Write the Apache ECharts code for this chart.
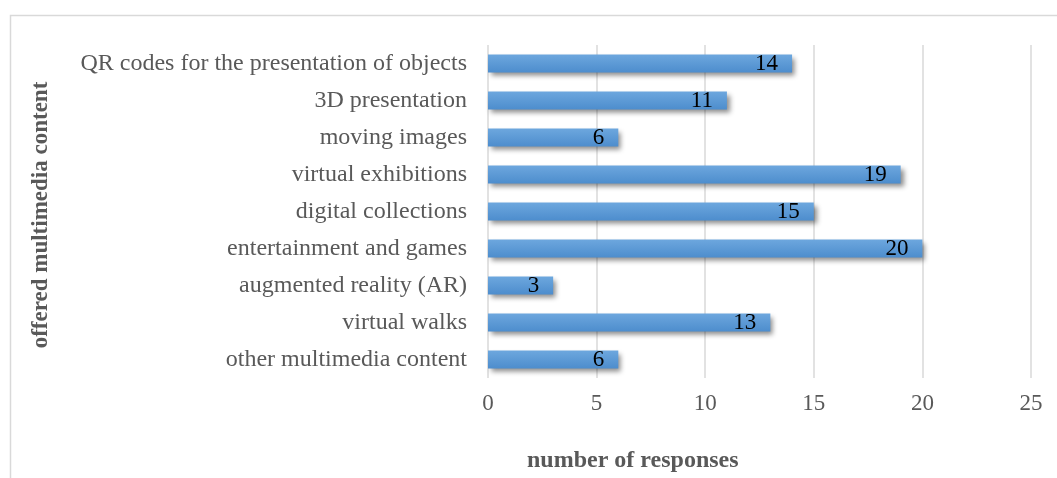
<!DOCTYPE html>
<html>
<head>
<meta charset="utf-8">
<script src="https://cdn.jsdelivr.net/npm/echarts@6/dist/echarts.min.js"></script>
<style>html,body{margin:0;padding:0;background:#fff}#c{width:1057px;height:478px}</style>
</head>
<body>
<div id="c"></div>
<script>
const categories = [
  'QR codes for the presentation of objects',
  '3D presentation',
  'moving images',
  'virtual exhibitions',
  'digital collections',
  'entertainment and games',
  'augmented reality (AR)',
  'virtual walks',
  'other multimedia content'
];
const values = [14, 11, 6, 19, 15, 20, 3, 13, 6];
const xTicks = { min: 0, max: 25, interval: 5 };
const yTitle = 'offered multimedia content';
const xTitle = 'number of responses';

const font = '"Liberation Serif", "Times New Roman", serif';
const chart = echarts.init(document.getElementById('c'), null, { renderer: 'canvas' });
chart.setOption({
  animation: false,
  backgroundColor: '#fff',
  grid: { left: 488, right: 26, top: 45, bottom: 100, containLabel: false },
  graphic: [
    { type: 'rect', shape: { x: 10.5, y: 15.5, width: 1200, height: 600 }, style: { fill: 'none', stroke: '#d9d9d9', lineWidth: 1.5 }, silent: true },
    { type: 'text', left: 527, top: 449, style: { text: xTitle, font: 'bold 24px ' + font, fill: '#595959' } },
    { type: 'text', x: 41, y: 215, rotation: Math.PI / 2,
      style: { text: yTitle, font: 'bold 23px ' + font, fill: '#595959', align: 'center', verticalAlign: 'middle' } }
  ],
  xAxis: {
    type: 'value', min: xTicks.min, max: xTicks.max, interval: xTicks.interval,
    axisLine: { show: false }, axisTick: { show: false },
    splitLine: { show: true, lineStyle: { color: '#d9d9d9', width: 1.5 } },
    axisLabel: { margin: 14, color: '#595959', fontFamily: font, fontSize: 23 }
  },
  yAxis: {
    type: 'category', data: categories, inverse: true,
    axisLine: { show: false }, axisTick: { show: false },
    axisLabel: { margin: 21, color: '#595959', fontFamily: font, fontSize: 24 }
  },
  series: [{
    type: 'bar', data: values, barWidth: 18,
    itemStyle: {
      color: new echarts.graphic.LinearGradient(0, 0, 0, 1, [
        { offset: 0, color: '#6da7de' }, { offset: 1, color: '#4d8dcd' }
      ]),
      shadowColor: 'rgba(0,0,0,0.45)', shadowBlur: 5, shadowOffsetX: 3, shadowOffsetY: 3
    },
    label: { show: true, position: 'insideRight', distance: 14, color: '#000', fontFamily: font, fontSize: 23 }
  }]
});
</script>
</body>
</html>
